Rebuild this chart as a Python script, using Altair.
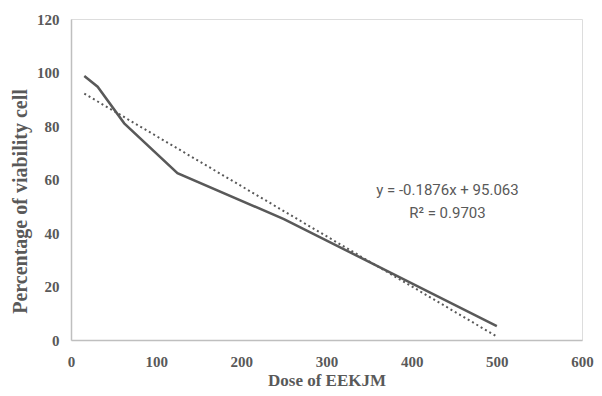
import altair as alt
import pandas as pd

dose = [15.625, 31.25, 62.5, 125, 250, 500]
viability = [98.7, 94.7, 81.0, 62.4, 45.2, 5.2]

trend_x = [15.625, 500]
trend_y = [92.1, 1.3]

eq_text = ["y = -0.1876x + 95.063", "R² = 0.9703"]
eq_x = [442, 442]
eq_y = [56, 47.5]

df = pd.DataFrame({"dose": dose, "v": viability})
tdf = pd.DataFrame({"dose": trend_x, "v": trend_y})
edf = pd.DataFrame({"t": eq_text, "x": eq_x, "y": eq_y})

gray = "#595959"
xs = alt.Scale(domain=[0, 600], nice=False)
ys = alt.Scale(domain=[0, 120], nice=False)

xax = alt.Axis(values=[0, 100, 200, 300, 400, 500, 600], grid=False, ticks=False,
               labelFlush=False,
               domainColor="#bfbfbf", domainWidth=1.5, labelFont="Liberation Serif",
               labelFontSize=15, labelFontWeight="bold", labelColor=gray, labelPadding=14,
               title="Dose of EEKJM", titleFont="Liberation Serif", titleFontSize=17,
               titleFontWeight="bold", titleColor=gray, titlePadding=3)
yax = alt.Axis(values=[0, 20, 40, 60, 80, 100, 120], grid=False, ticks=False,
               labelFlush=False,
               domainColor="#bfbfbf", domainWidth=1.5, labelFont="Liberation Serif",
               labelFontSize=15, labelFontWeight="bold", labelColor=gray, labelPadding=12,
               title="Percentage of viability cell", titleFont="Liberation Serif",
               titleFontSize=20, titleFontWeight="bold", titleColor=gray,
               titleX=-51, titleY=182, titleBaseline="middle", titleAlign="center")

line = alt.Chart(df).mark_line(color=gray, strokeWidth=2.5).encode(
    x=alt.X("dose:Q", scale=xs, axis=xax),
    y=alt.Y("v:Q", scale=ys, axis=yax),
)
trend = alt.Chart(tdf).mark_line(color=gray, strokeWidth=2, strokeDash=[2, 3]).encode(
    x=alt.X("dose:Q", scale=xs),
    y=alt.Y("v:Q", scale=ys),
)
text = alt.Chart(edf).mark_text(font="Liberation Sans Narrow, Roboto", fontSize=15,
                                color=gray).encode(
    x=alt.X("x:Q", scale=xs),
    y=alt.Y("y:Q", scale=ys),
    text="t:N",
)

chart = (line + trend + text).properties(
    width=511, height=321,
    autosize=alt.AutoSizeParams(type="none"),
    padding={"left": 63, "top": 11, "right": 12, "bottom": 48},
).configure_view(stroke=None).configure(background="white")

chart.save("out.html", embed_options={"renderer": "svg", "actions": False})
